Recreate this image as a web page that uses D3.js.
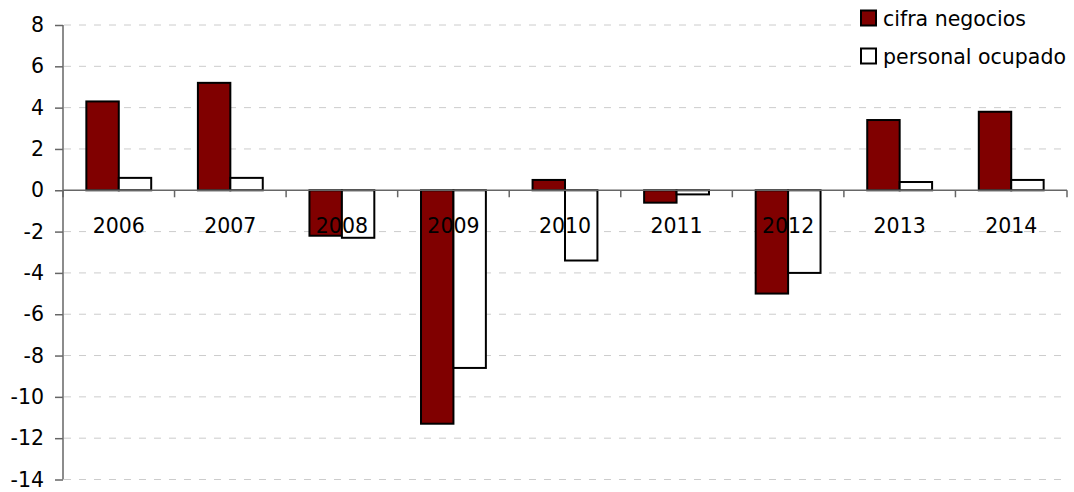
<!DOCTYPE html>
<html>
<head>
<meta charset="utf-8">
<script src="https://cdn.jsdelivr.net/npm/d3@7"></script>
<style>
  body { margin: 0; background: #fff; }
  svg { display: block; }
  text { font-family: "DejaVu Sans", Verdana, sans-serif; fill: #000; }
</style>
</head>
<body>
<div id="chart"></div>
<script>
// data
var years = ["2006", "2007", "2008", "2009", "2010", "2011", "2012", "2013", "2014"];
var cifraNegocios = [4.3, 5.2, -2.2, -11.3, 0.5, -0.6, -5.0, 3.4, 3.8];
var personalOcupado = [0.6, 0.6, -2.3, -8.6, -3.4, -0.2, -4.0, 0.4, 0.5];
var seriesNames = ["cifra negocios", "personal ocupado"];
var seriesColors = ["#800000", "#ffffff"];
var yTicks = [-14, -12, -10, -8, -6, -4, -2, 0, 2, 4, 6, 8];

var W = 1074, H = 492;
var fontSize = "20.5px";
var svg = d3.select("#chart").append("svg").attr("width", W).attr("height", H);

var x0 = d3.scaleBand().domain(years).range([63, 1067]).padding(0);
var x1 = d3.scaleBand().domain([0, 1]).range([0, x0.bandwidth()])
    .paddingInner(0).paddingOuter(0.72);
var y = d3.scaleLinear().domain([-14, 8]).range([479.5, 25]);

// gridlines
svg.append("g").selectAll("line")
    .data(yTicks.filter(function (d) { return d !== 0; }))
    .enter().append("line")
    .attr("x1", 64).attr("x2", 1067)
    .attr("y1", function (d) { return y(d); })
    .attr("y2", function (d) { return y(d); })
    .attr("stroke", "#cccccc")
    .attr("stroke-dasharray", "7,8");

// legend box (white, covers the grid)
var legend = svg.append("g");
legend.append("rect").attr("x", 852).attr("y", 0).attr("width", 222).attr("height", 76).attr("fill", "#fff");

// bars
var rows = years.map(function (yr, i) { return [cifraNegocios[i], personalOcupado[i]]; });
var groups = svg.append("g").selectAll("g")
    .data(rows).enter().append("g")
    .attr("transform", function (d, i) { return "translate(" + x0(years[i]) + ",0)"; });
groups.selectAll("rect")
    .data(function (d) { return d; })
    .enter().append("rect")
    .attr("x", function (d, j) { return x1(j); })
    .attr("width", x1.bandwidth())
    .attr("y", function (d) { return y(Math.max(0, d)); })
    .attr("height", function (d) { return Math.abs(y(d) - y(0)); })
    .attr("fill", function (d, j) { return seriesColors[j]; })
    .attr("stroke", "#000")
    .attr("stroke-width", 2);

// y axis
var yAxis = d3.axisLeft(y).tickValues(yTicks).tickSize(8).tickPadding(11).tickFormat(d3.format("d"));
var gy = svg.append("g").attr("transform", "translate(63,0)").call(yAxis);
gy.select(".domain").attr("stroke", "#666").attr("stroke-width", 1.5).attr("d", "M0," + y(8) + "V" + y(-14));
gy.selectAll(".tick line").attr("stroke", "#666").attr("stroke-width", 1.5);
gy.selectAll(".tick text").style("font-size", fontSize).attr("fill", "#000")
    .text(function (d) { return d < 0 ? "-" + Math.abs(d) : d; });

// x axis along zero
var xAxis = d3.axisBottom(x0).tickSize(0).tickFormat("");
var gx = svg.append("g").attr("transform", "translate(0," + y(0) + ")").call(xAxis);
gx.select(".domain").attr("stroke", "#666").attr("stroke-width", 1.5).attr("d", "M63,0H1067");
gx.selectAll(".edge").data(d3.range(years.length + 1)).enter().append("line")
    .attr("x1", function (i) { return 63 + i * x0.step(); })
    .attr("x2", function (i) { return 63 + i * x0.step(); })
    .attr("y1", 0).attr("y2", 7).attr("stroke", "#666").attr("stroke-width", 1.5);

// category labels
svg.append("g").selectAll("text")
    .data(years).enter().append("text")
    .attr("x", function (d) { return x0(d) + x0.bandwidth() / 2; })
    .attr("y", 233)
    .attr("text-anchor", "middle")
    .style("font-size", fontSize)
    .text(function (d) { return d; });

// legend items
seriesNames.forEach(function (name, i) {
    legend.append("rect")
        .attr("x", 861).attr("y", 10.5 + i * 38).attr("width", 15).attr("height", 15)
        .attr("fill", seriesColors[i]).attr("stroke", "#000").attr("stroke-width", 2);
    legend.append("text")
        .attr("x", 883).attr("y", 26 + i * 38)
        .style("font-size", fontSize)
        .text(name);
});
</script>
</body>
</html>
